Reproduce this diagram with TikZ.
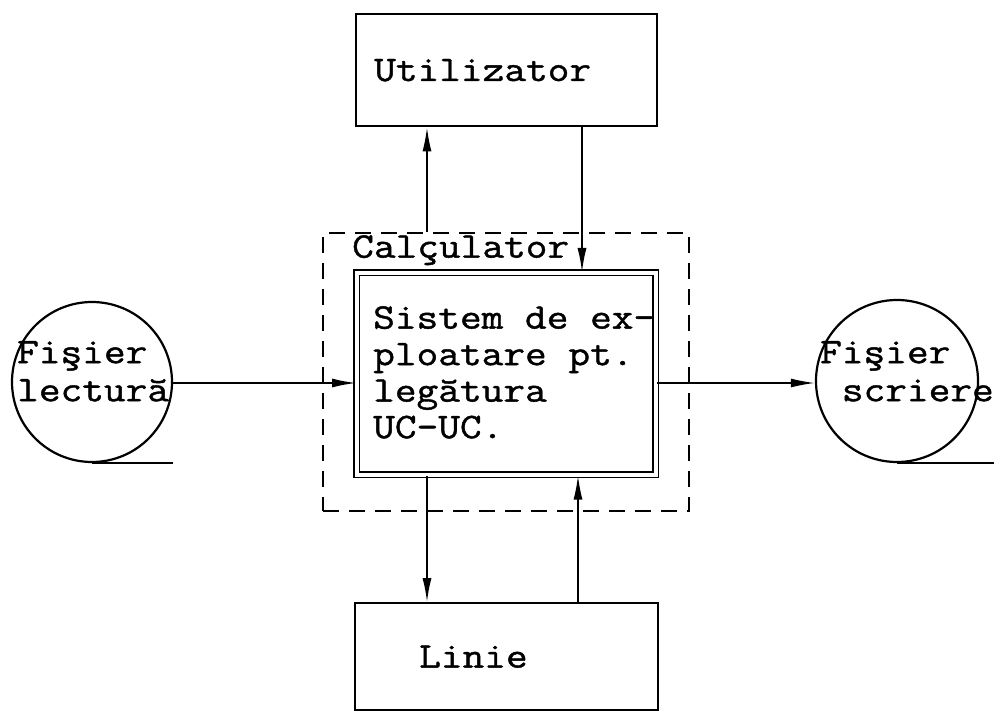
\documentclass[tikz,border=0pt]{standalone}
\usepackage{fontspec}
\setmainfont[FakeStretch=1.17,FakeBold=1.2]{Latin Modern Mono}
\usetikzlibrary{arrows.meta,calc}
\begin{document}
\begin{tikzpicture}[x=1pt,y=-1pt,
  box/.style={draw,line width=2.4pt,rectangle,anchor=north west,inner sep=0pt},
  tt/.style={font=\fontsize{36}{36.5}\selectfont},
  ttc/.style={font=\fontsize{36}{38}\selectfont},
  conn/.style={line width=1.6pt,-{Latex[length=24pt,width=9pt]}},
  disk/.style={draw,circle,line width=2.2pt,inner sep=0pt},
  txt/.style={anchor=north west,inner sep=0pt,align=left}
  ]
\useasboundingbox (0,0) rectangle (994,711);
% boxes
\node[box,minimum width=301pt,minimum height=112pt,tt,align=left,text width=265pt] (util) at (355,13) {Utilizator};
\node[box,minimum width=303pt,minimum height=107pt,tt,align=left,text width=175pt] (linie) at (354,602) {Linie};
\node[box,dash pattern=on 16pt off 10pt,minimum width=366pt,minimum height=278pt] (calc) at (322,232) {};
\node[box,line width=1.6pt,double,double distance=4pt,minimum width=299pt,minimum height=202pt] (sys) at (356,272) {};
\node[txt,tt] (calclbl) at (352,235) {Calçulator};
\node[txt,tt] (systxt) at (373,306) {Sistem de ex-\\ploatare pt.\\legătura\\UC-UC.};
% disks
\node[disk,minimum size=160pt] (lect) at (92,382) {};
\node[disk,minimum size=162pt] (wr) at (897,381) {};
\node[txt,ttc] (lecttxt) at (17,341) {Fişier\\lectură};
\node[txt,ttc] (wrtxt) at (820,341) {Fişier\\\phantom{F}scriere};
\draw[line width=2.2pt] (lect.south) -- ++(81,0);
\draw[line width=2.2pt] (wr.south) -- ++(97,0);
% connectors
\coordinate (xa) at (427,0);
\coordinate (xb) at (582,0);
\coordinate (xc) at (578,0);
\coordinate (ya) at (0,383);
\draw[conn] (calc.north -| xa) -- (util.south -| xa);
\draw[conn] (util.south -| xb) -- (sys.north -| xb);
\draw[conn] (sys.south -| xa) -- (linie.north -| xa);
\draw[conn] (linie.north -| xc) -- (sys.south -| xc);
\draw[conn] (lect.east |- ya) -- (sys.west |- ya);
\draw[conn] (sys.east |- ya) -- (wr.west |- ya);
\end{tikzpicture}
\end{document}
